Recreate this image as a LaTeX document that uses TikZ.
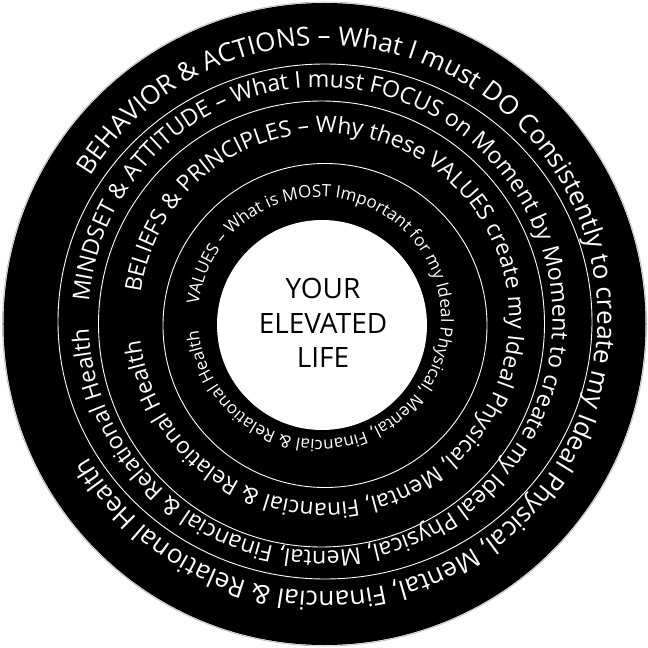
\documentclass[tikz,border=0pt]{standalone}
\usepackage{fontspec}
\setmainfont{Open Sans}

% fonts for the four rings
\newcommand{\ringfontA}{\fontsize{26}{30}\selectfont}
\newcommand{\ringfontB}{\fontsize{23.2}{27}\selectfont}
\newcommand{\ringfontC}{\fontsize{22.8}{26}\selectfont}
\newcommand{\ringfontD}{\fontsize{17}{20}\selectfont}

% one letter of a ring: shift, radius, angle, font, letter, name
\newcommand{\ringchar}[6]{%
  \node[glyph, font=#4, rotate=#3-90] (#6) at ([shift={(#1)}]#3:#2) {#5};}

\ExplSyntaxOn
\int_new:N \g_ring_char_int
\dim_new:N \l_ring_total_dim
\fp_new:N \l_ring_angle_fp
\fp_new:N \l_ring_step_fp
\tl_new:N \l_ring_mid_tl
\tl_new:N \l_ring_name_tl
\str_new:N \l_ring_text_str
\box_new:N \l_ring_char_box
\cs_new_protected:Npn \ring_measure:nn #1#2
  {
    \hbox_set:Nn \l_ring_char_box
      {
        \pgfinterruptpicture
        #1
        \str_if_eq:nnTF {#2} { ~ }
          { \skip_horizontal:n { \fontdimen2\font } }
          { #2 }
        \endpgfinterruptpicture
      }
  }
% font, radius, middle angle, shift, text (set clockwise, centred on the middle angle)
\NewDocumentCommand \ringtext { m m m m m }
  {
    \str_set:Nn \l_ring_text_str {#5}
    \dim_zero:N \l_ring_total_dim
    \str_map_inline:Nn \l_ring_text_str
      {
        \ring_measure:nn {#1} {##1}
        \dim_add:Nn \l_ring_total_dim { \box_wd:N \l_ring_char_box }
      }
    \fp_set:Nn \l_ring_angle_fp
      { #3 + \dim_to_fp:n { \l_ring_total_dim } / (#2) * 90 / pi }
    \str_map_inline:Nn \l_ring_text_str
      {
        \ring_measure:nn {#1} {##1}
        \fp_set:Nn \l_ring_step_fp
          { \dim_to_fp:n { \box_wd:N \l_ring_char_box } / (#2) * 180 / pi }
        \str_if_eq:nnF {##1} { ~ }
          {
            \int_gincr:N \g_ring_char_int
            \tl_set:Nx \l_ring_mid_tl
              { \fp_eval:n { round(\l_ring_angle_fp - \l_ring_step_fp / 2, 3) } }
            \tl_set:Nx \l_ring_name_tl { ch \int_use:N \g_ring_char_int }
            \ringchar {#4} {#2} {\l_ring_mid_tl} {#1} {##1} {\l_ring_name_tl}
          }
        \fp_sub:Nn \l_ring_angle_fp { \l_ring_step_fp }
      }
  }
\ExplSyntaxOff

\begin{document}
\begin{tikzpicture}[
    x=1pt, y=1pt,
    sep/.style={draw=white, line width=0.9pt},
    glyph/.style={text=white, inner sep=0pt, anchor=base}
  ]
  \useasboundingbox[fill=white] (-324,-324) rectangle (324,324);

  % disks and separating lines
  \draw[gray!50, line width=0.8pt] (0.5,0) circle[radius=322];
  \fill[black] (0.5,0) circle[radius=321];
  \draw[sep] (1,2.5) ellipse[x radius=267, y radius=257.5];
  \draw[sep] (-2.5,0) circle[radius=223];
  \draw[sep] (1,-1.5) circle[radius=162];
  \fill[white] (-2,-1) circle[radius=105];

  % ring texts, clockwise
  \ringtext{\ringfontA}{273.5}{-0.5}{0,5.5}
    {BEHAVIOR & ACTIONS – What I must DO Consistently to create my Ideal Physical, Mental, Financial & Relational Health}
  \ringtext{\ringfontB}{232}{-1}{-3.5,5}
    {MINDSET & ATTITUDE – What I must FOCUS on Moment by Moment to create my Ideal Physical, Mental, Financial & Relational Health}
  \ringtext{\ringfontC}{185}{-0.5}{0,6}
    {BELIEFS & PRINCIPLES – Why these VALUES create my Ideal Physical, Mental, Financial & Relational Health}
  \ringtext{\ringfontD}{121.5}{-0.5}{-4.5,5.5}
    {VALUES – What is MOST Important for my Ideal Physical, Mental, Financial & Relational Health}

  % centre
  \node[align=center, font=\fontsize{28}{34.5}\selectfont] (core) at (-1,1)
    {YOUR\\ELEVATED\\LIFE};
\end{tikzpicture}
\end{document}
